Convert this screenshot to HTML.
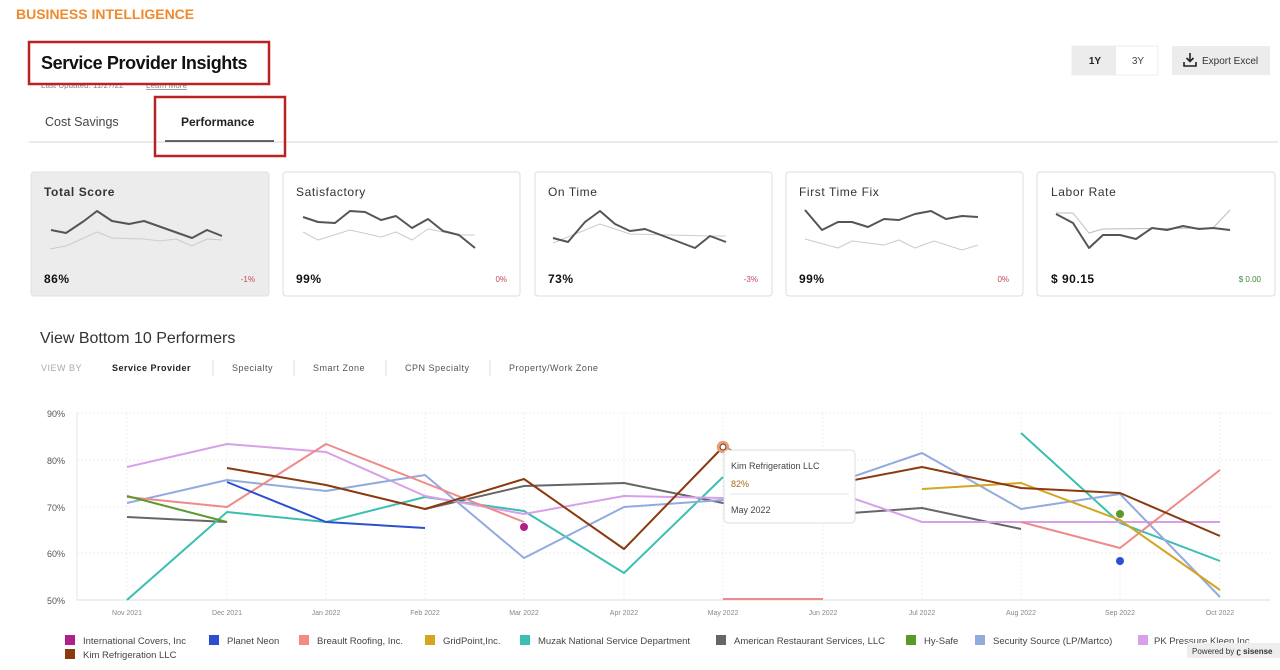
<!DOCTYPE html>
<html><head><meta charset="utf-8"><style>
html,body{margin:0;padding:0;background:#fff;width:1280px;height:670px;overflow:hidden}
svg{display:block;font-family:"Liberation Sans",sans-serif}
</style></head><body>
<svg width="1280" height="670" viewBox="0 0 1280 670" xmlns="http://www.w3.org/2000/svg">
<text x="16" y="19" font-size="14" font-weight="bold" fill="#ef8a2e">BUSINESS INTELLIGENCE</text>
<!-- header -->
<text x="41" y="88" font-size="8" fill="#888">Last Updated: 11/27/22</text>
<text x="146" y="88" font-size="8" fill="#888" text-decoration="underline">Learn More</text>
<rect x="29" y="42" width="240" height="42" fill="#fff" stroke="#b22" stroke-width="2.5"/>
<text x="41" y="69" font-size="18" font-weight="bold" fill="#111" letter-spacing="-0.4">Service Provider Insights</text>
<text x="45" y="126" font-size="12.5" fill="#444">Cost Savings</text>
<text x="181" y="126" font-size="12" font-weight="bold" fill="#222">Performance</text>
<line x1="29" y1="142" x2="1278" y2="142" stroke="#e4e4e4" stroke-width="1.5"/>
<line x1="165" y1="141" x2="274" y2="141" stroke="#333" stroke-width="1.5"/>
<rect x="155" y="97" width="130" height="59" fill="none" stroke="#b22" stroke-width="2.5"/>
<!-- buttons -->
<rect x="1072" y="46" width="86" height="29" fill="#fff" stroke="#eee"/>
<rect x="1072" y="46" width="44" height="29" fill="#ececec"/>
<text x="1095" y="64" font-size="10" font-weight="bold" fill="#222" text-anchor="middle">1Y</text>
<text x="1138" y="64" font-size="10" fill="#444" text-anchor="middle">3Y</text>
<rect x="1172" y="46" width="98" height="29" fill="#ececec"/>
<path d="M1190 53v8M1186.5 58l3.5 3.5 3.5-3.5M1184 62v4h12v-4" stroke="#222" stroke-width="1.6" fill="none"/>
<text x="1202" y="64" font-size="10" fill="#333">Export Excel</text>
<!-- cards -->
<rect x="31" y="172" width="238" height="124" rx="3" fill="#ececec" stroke="#e2e2e2"/>
<rect x="283" y="172" width="237" height="124" rx="3" fill="#fff" stroke="#ddd"/>
<rect x="535" y="172" width="237" height="124" rx="3" fill="#fff" stroke="#ddd"/>
<rect x="786" y="172" width="237" height="124" rx="3" fill="#fff" stroke="#ddd"/>
<rect x="1037" y="172" width="238" height="124" rx="3" fill="#fff" stroke="#ddd"/>
<g font-size="12" fill="#333" letter-spacing="0.6">
<text x="44" y="196" font-weight="bold">Total Score</text>
<text x="296" y="196">Satisfactory</text>
<text x="548" y="196">On Time</text>
<text x="799" y="196">First Time Fix</text>
<text x="1051" y="196">Labor Rate</text>
</g>
<g font-size="12" font-weight="bold" fill="#111" letter-spacing="0.5">
<text x="44" y="283">86%</text><text x="296" y="283">99%</text><text x="548" y="283">73%</text><text x="799" y="283">99%</text><text x="1051" y="283">$ 90.15</text>
</g>
<g font-size="8" fill="#c4485a" text-anchor="end">
<text x="255" y="282">-1%</text><text x="507" y="282">0%</text><text x="758" y="282">-3%</text><text x="1009" y="282">0%</text>
<text x="1261" y="282" fill="#3a8a3a">$ 0.00</text>
</g>
<g fill="none" stroke-linejoin="round">
<polyline stroke="#ccc" stroke-width="1" points="50,249 66,246 97,232 112,238 144,239 160,241 176,239 192,246 207,239 222,240"/>
<polyline stroke="#555" stroke-width="2" points="51,230 66,233 84,221 97,211 112,221 129,224 144,221 192,238 207,230 222,236"/>
<polyline stroke="#ccc" stroke-width="1" points="303,232 318,240 350,230 381,237 396,232 412,240 428,229 459,235 475,235"/>
<polyline stroke="#555" stroke-width="2" points="303,217 318,222 335,223 350,211 365,212 381,220 396,216 412,228 428,219 443,231 459,235 475,248"/>
<polyline stroke="#ccc" stroke-width="1" points="553,243 600,224 630,234 710,236 726,236"/>
<polyline stroke="#555" stroke-width="2" points="553,238 568,242 585,222 600,211 615,224 630,231 645,229 695,248 710,236 726,242"/>
<polyline stroke="#ccc" stroke-width="1" points="805,239 838,248 852,241 884,245 899,240 915,248 934,241 962,250 978,245"/>
<polyline stroke="#555" stroke-width="2" points="805,210 822,230 838,222 852,222 868,227 884,219 899,220 915,214 931,211 946,219 962,216 978,217"/>
<polyline stroke="#bbb" stroke-width="1" points="1056,213 1073,213 1089,233 1103,229 1213,228 1230,210"/>
<polyline stroke="#555" stroke-width="2" points="1056,214 1073,223 1089,248 1103,235 1120,235 1136,239 1152,228 1167,230 1183,226 1199,229 1213,228 1230,230"/>
</g>
<!-- section -->
<text x="40" y="343" font-size="16" fill="#333">View Bottom 10 Performers</text>
<g font-size="9" letter-spacing="0.5">
<text x="41" y="371" fill="#aaa">VIEW BY</text>
<text x="112" y="371" font-weight="bold" fill="#222">Service Provider</text>
<text x="232" y="371" fill="#555">Specialty</text>
<text x="313" y="371" fill="#555">Smart Zone</text>
<text x="405" y="371" fill="#555">CPN Specialty</text>
<text x="509" y="371" fill="#555">Property/Work Zone</text>
</g>
<g stroke="#ddd"><line x1="213" y1="360" x2="213" y2="376"/><line x1="294" y1="360" x2="294" y2="376"/><line x1="386" y1="360" x2="386" y2="376"/><line x1="490" y1="360" x2="490" y2="376"/></g>
<!-- chart grid -->
<g stroke="#eee" stroke-dasharray="2,2">
<line x1="77" y1="413" x2="1270" y2="413"/><line x1="77" y1="460" x2="1270" y2="460"/><line x1="77" y1="507" x2="1270" y2="507"/><line x1="77" y1="553" x2="1270" y2="553"/>
<line x1="127" y1="413" x2="127" y2="600"/><line x1="227" y1="413" x2="227" y2="600"/><line x1="326" y1="413" x2="326" y2="600"/><line x1="425" y1="413" x2="425" y2="600"/><line x1="524" y1="413" x2="524" y2="600"/><line x1="624" y1="413" x2="624" y2="600"/><line x1="723" y1="413" x2="723" y2="600"/><line x1="823" y1="413" x2="823" y2="600"/><line x1="922" y1="413" x2="922" y2="600"/><line x1="1021" y1="413" x2="1021" y2="600"/><line x1="1120" y1="413" x2="1120" y2="600"/><line x1="1220" y1="413" x2="1220" y2="600"/>
</g>
<line x1="77" y1="413" x2="77" y2="600" stroke="#e4e4e4"/>
<line x1="77" y1="600" x2="1270" y2="600" stroke="#ddd"/>
<g font-size="9" fill="#555" text-anchor="end">
<text x="65" y="417">90%</text><text x="65" y="464">80%</text><text x="65" y="511">70%</text><text x="65" y="557">60%</text><text x="65" y="604">50%</text>
</g>
<g font-size="7" fill="#888" text-anchor="middle">
<text x="127" y="615">Nov 2021</text><text x="227" y="615">Dec 2021</text><text x="326" y="615">Jan 2022</text><text x="425" y="615">Feb 2022</text><text x="524" y="615">Mar 2022</text><text x="624" y="615">Apr 2022</text><text x="723" y="615">May 2022</text><text x="823" y="615">Jun 2022</text><text x="922" y="615">Jul 2022</text><text x="1021" y="615">Aug 2022</text><text x="1120" y="615">Sep 2022</text><text x="1220" y="615">Oct 2022</text>
</g>
<!-- series -->
<g fill="none" stroke-width="2" stroke-linejoin="round">
<polyline stroke="#666" points="127,517 227,522"/>
<polyline stroke="#666" points="425,509 524,486 624,483 723,503 823,515 922,508 1021,529"/>
<polyline stroke="#3bbfb0" points="127,600 227,512 326,522 425,497 524,511 624,573 723,477"/>
<polyline stroke="#3bbfb0" points="1021,433 1120,523 1220,561"/>
<polyline stroke="#d8a0e8" points="127,467 227,444 326,452 425,496 524,514 624,496 723,498 823,488 922,522 1021,522 1120,522 1220,522"/>
<polyline stroke="#93aae0" points="127,503 227,480 326,491 425,475 524,558 624,507 723,500 823,487 922,453 1021,509 1120,494 1220,597"/>
<polyline stroke="#f08a8a" points="127,497 227,507 326,444 425,483 524,522"/>
<polyline stroke="#f08a8a" points="723,599 823,599"/>
<polyline stroke="#f08a8a" points="1021,522 1120,548 1220,470"/>
<polyline stroke="#d4a520" points="922,489 1021,483 1120,520 1220,590"/>
<polyline stroke="#5a9a2a" points="127,496 227,522"/>
<polyline stroke="#2b4fd0" points="227,482 326,522 425,528"/>
<polyline stroke="#8b3a0f" points="227,468 326,485 425,509 524,479 624,549 723,447 823,486 922,467 1021,488 1120,493 1220,536"/>
</g>
<circle cx="524" cy="527" r="4" fill="#b0208a"/>
<circle cx="1120" cy="514" r="4" fill="#5a9a2a"/>
<circle cx="1120" cy="561" r="4" fill="#2b4fd0"/>
<circle cx="723" cy="447" r="5" fill="#fff" stroke="#e8a078" stroke-width="2.5"/>
<circle cx="723" cy="447" r="3" fill="#fff" stroke="#8b3a0f" stroke-width="1.2"/>
<!-- tooltip -->
<rect x="724" y="450" width="131" height="73" rx="4" fill="#fff" stroke="#ddd"/>
<text x="731" y="469" font-size="9" fill="#444">Kim Refrigeration LLC</text>
<text x="731" y="487" font-size="9" fill="#a06a1a">82%</text>
<line x1="730" y1="494" x2="849" y2="494" stroke="#e4e4e4"/>
<text x="731" y="513" font-size="9" fill="#444">May 2022</text>
<!-- legend -->
<g font-size="9.5" fill="#444">
<rect x="65" y="635" width="10" height="10" fill="#b0208a"/><text x="83" y="644">International Covers, Inc</text>
<rect x="209" y="635" width="10" height="10" fill="#2b4fd0"/><text x="227" y="644">Planet Neon</text>
<rect x="299" y="635" width="10" height="10" fill="#f08a8a"/><text x="317" y="644">Breault Roofing, Inc.</text>
<rect x="425" y="635" width="10" height="10" fill="#d4a520"/><text x="443" y="644">GridPoint,Inc.</text>
<rect x="520" y="635" width="10" height="10" fill="#3bbfb0"/><text x="538" y="644">Muzak National Service Department</text>
<rect x="716" y="635" width="10" height="10" fill="#666"/><text x="734" y="644">American Restaurant Services, LLC</text>
<rect x="906" y="635" width="10" height="10" fill="#5a9a2a"/><text x="924" y="644">Hy-Safe</text>
<rect x="975" y="635" width="10" height="10" fill="#93aae0"/><text x="993" y="644">Security Source (LP/Martco)</text>
<rect x="1138" y="635" width="10" height="10" fill="#d8a0e8"/><text x="1154" y="644">PK Pressure Kleen Inc</text>
<rect x="65" y="649" width="10" height="10" fill="#8b3a0f"/><text x="83" y="658">Kim Refrigeration LLC</text>
</g>
<rect x="1187" y="643" width="93" height="15" fill="#eee"/>
<text x="1192" y="654" font-size="8" fill="#333">Powered by <tspan font-weight="bold">ʗ sisense</tspan></text>
</svg>
</body></html>
